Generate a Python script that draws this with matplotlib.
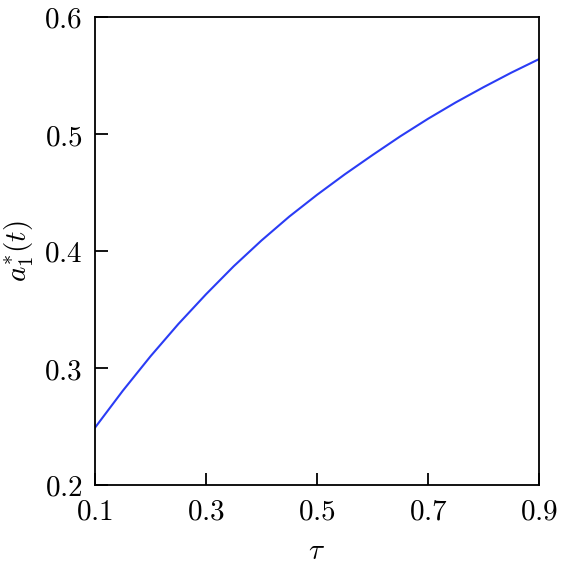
import matplotlib
matplotlib.use("Agg")
import matplotlib.pyplot as plt

plt.rcParams["mathtext.fontset"] = "cm"
plt.rcParams["font.family"] = "serif"
plt.rcParams["font.serif"] = ["DejaVu Serif"]

# values
tau = [0.10, 0.15, 0.20, 0.25, 0.30, 0.35, 0.40, 0.45, 0.50,
       0.55, 0.60, 0.65, 0.70, 0.75, 0.80, 0.85, 0.90]
a1_star = [0.249, 0.2805, 0.310, 0.3375, 0.363, 0.387, 0.409, 0.4294, 0.448,
           0.4655, 0.482, 0.498, 0.513, 0.527, 0.540, 0.5524, 0.564]
xticks = [0.1, 0.3, 0.5, 0.7, 0.9]
yticks = [0.2, 0.3, 0.4, 0.5, 0.6]

fig = plt.figure(figsize=(5.61, 5.70), dpi=100)
ax = fig.add_axes([95 / 561, 1 - 485 / 570, 444 / 561, 468 / 570])

ax.plot(tau, a1_star, color="#2a3cf5", lw=1.5)

ax.set_xlim(0.1, 0.9)
ax.set_ylim(0.2, 0.6)
ax.set_xticks(xticks)
ax.set_yticks(yticks)
ax.set_xticklabels(["$%.1f$" % v for v in xticks])
ax.set_yticklabels(["$%.1f$" % v for v in yticks])
ax.tick_params(direction="in", length=9, width=1.3, labelsize=21, pad=9)
for s in ax.spines.values():
    s.set_linewidth(1.3)

ax.set_xlabel(r"$\tau$", fontsize=21, labelpad=8)
ax.set_ylabel(r"$a_1^{*}(t)$", fontsize=21, labelpad=6)

fig.savefig("out.png", dpi=100)
